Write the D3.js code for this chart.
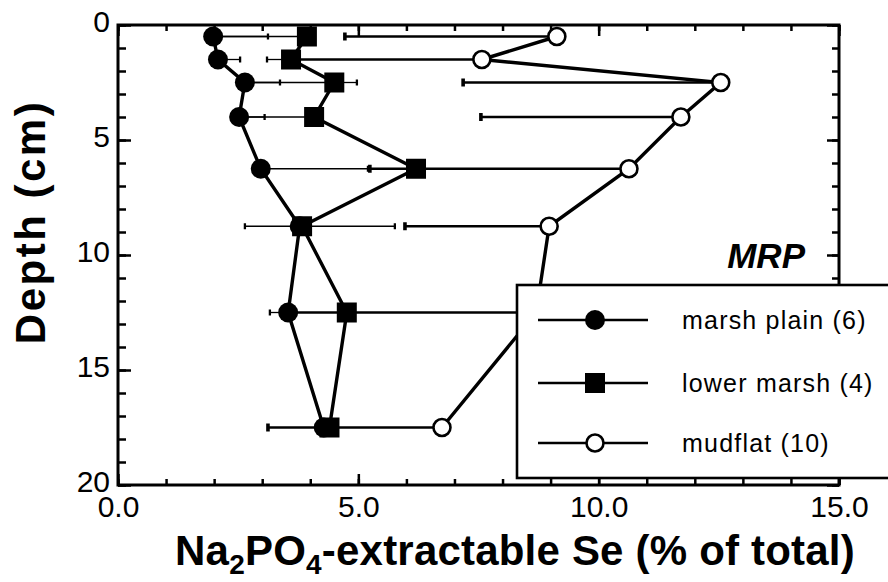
<!DOCTYPE html>
<html>
<head>
<meta charset="utf-8">
<script src="https://cdn.jsdelivr.net/npm/d3@7"></script>
<style>
  body { margin: 0; background: #fff; }
  svg { display: block; font-family: "Liberation Sans", Arial, sans-serif; }
</style>
</head>
<body>
<svg id="chart" width="888" height="582"></svg>
<script>
// depth of each sampled layer (cm)
var depths = [0.5, 1.5, 2.5, 4, 6.25, 8.75, 12.5, 17.5];

// Na2PO4-extractable Se, % of total
var marshPlain = [1.98, 2.08, 2.64, 2.52, 2.97, 3.78, 3.54, 4.28];
var lowerMarsh = [3.93, 3.6, 4.5, 4.08, 6.2, 3.83, 4.76, 4.4];
var mudflat    = [9.13, 7.57, 12.54, 11.71, 10.63, 8.97, 8.7, 6.74];

// error bar ends (null = not drawn)
var marshPlainLo = [null, null, null, null, null, null, 3.16, null];
var marshPlainHi = [3.12, 2.54, 3.37, 3.05, 5.2, null, null, null];
var lowerMarshLo = [2.1, 3.1, 2.64, 2.55, null, 2.64, null, null];
var lowerMarshHi = [null, null, 4.97, null, null, 5.76, null, null];
var mudflatLo    = [4.72, 3.6, 7.18, 7.55, 5.24, 5.97, 3.55, 3.12];

var legendLabels = ["marsh plain (6)", "lower marsh (4)", "mudflat (10)"];
var xMajor = [0, 5, 10, 15];
var yMajor = [0, 5, 10, 15, 20];

var svg = d3.select("#chart");
var m = {left: 118, top: 25, right: 49, bottom: 97};
var W = 888 - m.left - m.right, H = 582 - m.top - m.bottom;

var x = d3.scaleLinear().domain([0, 15]).range([0, W]);
var y = d3.scaleLinear().domain([0, 20]).range([0, H]);

var g = svg.append("g").attr("transform", "translate(" + m.left + "," + m.top + ")");

// ---- axes (ticks point inward)
function styleAxis(sel) {
  sel.select(".domain").remove();
  sel.selectAll("line").attr("stroke", "#000").attr("stroke-width", 2.5);
  sel.selectAll("text").attr("fill", "#000").attr("font-size", 30);
}
var xMinor = d3.range(0, 16, 1), yMinor = d3.range(0, 21, 1);

g.append("g").attr("transform", "translate(0," + H + ")")
  .call(d3.axisBottom(x).tickValues(xMinor).tickSize(-6).tickFormat(""))
  .call(styleAxis);
g.append("g").attr("transform", "translate(0," + H + ")")
  .call(d3.axisBottom(x).tickValues(xMajor).tickSize(-11).tickPadding(11).tickFormat(d3.format(".1f")))
  .call(styleAxis);
g.append("g")
  .call(d3.axisTop(x).tickValues(xMinor).tickSize(-6).tickFormat(""))
  .call(styleAxis);
g.append("g")
  .call(d3.axisTop(x).tickValues(xMajor).tickSize(-11).tickFormat(""))
  .call(styleAxis);

g.append("g")
  .call(d3.axisLeft(y).tickValues(yMinor).tickSize(-8).tickFormat(""))
  .call(styleAxis);
g.append("g")
  .call(d3.axisLeft(y).tickValues(yMajor).tickSize(-13).tickPadding(8).tickFormat(d3.format("d")))
  .call(styleAxis)
  .call(function(a) { a.selectAll("text").attr("dy", "0.22em"); });
g.append("g").attr("transform", "translate(" + W + ",0)")
  .call(d3.axisRight(y).tickValues(yMinor).tickSize(-7).tickFormat(""))
  .call(styleAxis);
g.append("g").attr("transform", "translate(" + W + ",0)")
  .call(d3.axisRight(y).tickValues(yMajor).tickSize(-12).tickFormat(""))
  .call(styleAxis);

g.append("rect").attr("width", W).attr("height", H)
  .attr("fill", "none").attr("stroke", "#000").attr("stroke-width", 3);

// ---- error bars
function errBars(vals, ends, width, capH) {
  var eg = g.append("g");
  depths.forEach(function(d, i) {
    if (ends[i] == null) return;
    eg.append("line")
      .attr("x1", x(vals[i])).attr("x2", x(ends[i]))
      .attr("y1", y(d)).attr("y2", y(d))
      .attr("stroke", "#000").attr("stroke-width", width);
    eg.append("line")
      .attr("x1", x(ends[i])).attr("x2", x(ends[i]))
      .attr("y1", y(d) - capH / 2).attr("y2", y(d) + capH / 2)
      .attr("stroke", "#000").attr("stroke-width", width + 1);
  });
}
errBars(marshPlain, marshPlainLo, 1.3, 6);
errBars(marshPlain, marshPlainHi, 1.3, 6);
errBars(lowerMarsh, lowerMarshLo, 1.3, 6);
errBars(lowerMarsh, lowerMarshHi, 1.3, 6);
errBars(mudflat, mudflatLo, 2.6, 8);

// ---- profile lines
var line = d3.line().x(function(d) { return x(d[0]); }).y(function(d) { return y(d[1]); });
[mudflat, lowerMarsh, marshPlain].forEach(function(vals) {
  g.append("path")
    .datum(vals.map(function(v, i) { return [v, depths[i]]; }))
    .attr("d", line).attr("fill", "none")
    .attr("stroke", "#000").attr("stroke-width", 3.4);
});

// ---- markers
function marker(sel, kind) {
  if (kind === 0) {
    sel.append("circle").attr("r", 10).attr("fill", "#000");
  } else if (kind === 1) {
    sel.append("rect").attr("x", -10).attr("y", -10).attr("width", 20).attr("height", 20).attr("fill", "#000");
  } else {
    sel.append("circle").attr("r", 8.5).attr("fill", "#fff").attr("stroke", "#000").attr("stroke-width", 2.6);
  }
}
[marshPlain, lowerMarsh, mudflat].forEach(function(vals, k) {
  g.append("g").selectAll("g").data(vals).join("g")
    .attr("transform", function(v, i) { return "translate(" + x(v) + "," + y(depths[i]) + ")"; })
    .each(function() { marker(d3.select(this), k); });
});

// ---- site label
g.append("text").attr("x", 687).attr("y", 243)
  .attr("text-anchor", "end").attr("font-size", 35)
  .attr("font-weight", "bold").attr("font-style", "italic")
  .text("MRP");

// ---- legend
var lg = svg.append("g").attr("transform", "translate(517,285)");
lg.append("rect").attr("width", 400).attr("height", 193)
  .attr("fill", "#fff").attr("stroke", "#000").attr("stroke-width", 2.6);
var rowsY = [35, 98, 158];
legendLabels.forEach(function(lab, k) {
  var r = lg.append("g").attr("transform", "translate(0," + rowsY[k] + ")");
  r.append("line").attr("x1", 21).attr("x2", 131)
    .attr("stroke", "#000").attr("stroke-width", 2.6);
  marker(r.append("g").attr("transform", "translate(78,0)"), k);
  r.append("text").attr("x", 165).attr("y", 9)
    .attr("font-size", 25).attr("letter-spacing", 1.2).text(lab);
});

// ---- axis titles
svg.append("text").attr("x", 515).attr("y", 565)
  .attr("text-anchor", "middle").attr("font-size", 42).attr("font-weight", "bold")
  .attr("letter-spacing", 0.2)
  .call(function(t) {
    t.append("tspan").text("Na");
    t.append("tspan").attr("font-size", 28).attr("dy", 9).text("2");
    t.append("tspan").attr("dy", -9).text("PO");
    t.append("tspan").attr("font-size", 28).attr("dy", 9).text("4");
    t.append("tspan").attr("dy", -9).text("-extractable Se (% of total)");
  });

svg.append("text")
  .attr("transform", "translate(45,222) rotate(-90)")
  .attr("text-anchor", "middle").attr("font-size", 42).attr("font-weight", "bold")
  .attr("letter-spacing", 2.5)
  .text("Depth  (cm)");
</script>
</body>
</html>
